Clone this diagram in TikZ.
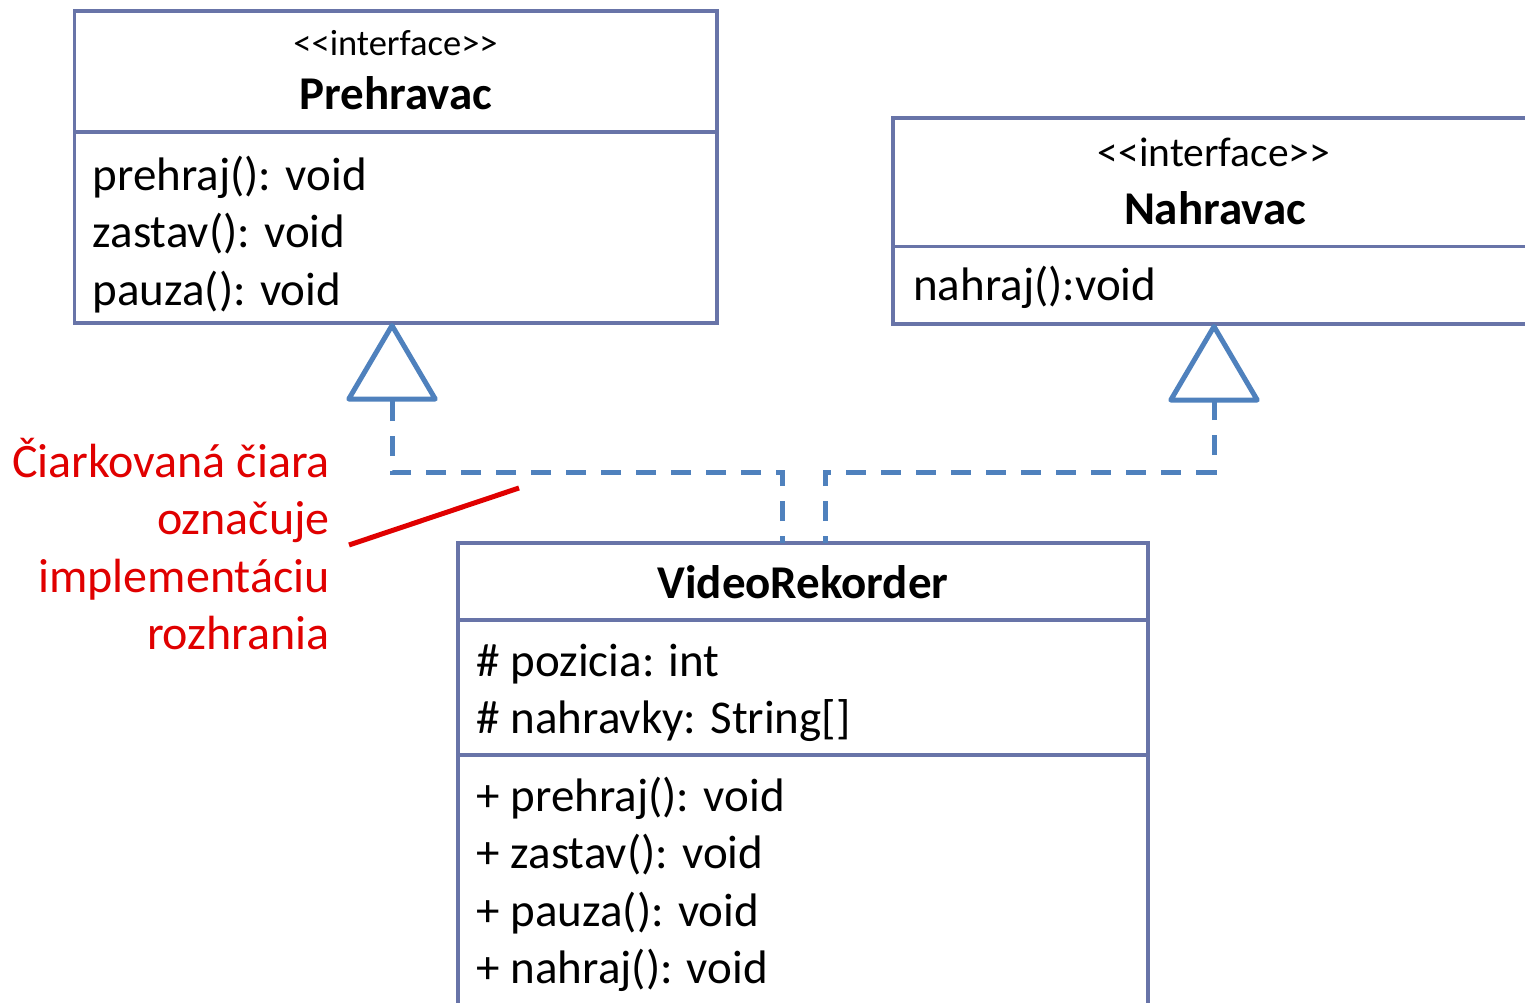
\documentclass[tikz,border=0pt]{standalone}
\usepackage{fontspec}
\setmainfont{Carlito}
\usetikzlibrary{arrows.meta}
\definecolor{boxline}{RGB}{104,116,168}
\definecolor{implblue}{RGB}{79,129,189}
\definecolor{notered}{RGB}{224,0,0}
\newcommand{\stereotype}{<\kern0pt<interface>\kern0pt>}
\tikzset{
  umlbox/.style={draw=boxline, line width=3.2pt, fill=white, rectangle,
    inner sep=0pt, outer sep=0pt},
  divider/.style={draw=boxline, line width=3.2pt},
  stereo/.style={inner sep=0pt, anchor=base, font=\fontsize{36.5}{44}\selectfont},
  classname/.style={inner sep=0pt, anchor=base, font=\fontsize{47}{57}\selectfont\bfseries},
  member/.style={inner sep=0pt, anchor=base west, font=\fontsize{47}{57}\selectfont},
  notetext/.style={inner sep=0pt, anchor=base east, text=notered,
    font=\fontsize{48}{58}\selectfont},
  realize/.style={draw=implblue, line width=5pt, dash pattern=on 20pt off 15pt,
    dash phase=13pt, line join=miter,
    -{Triangle[open, round, length=81pt, width=94pt]}},
  pointer/.style={draw=notered, line width=5pt},
}
\begin{document}
\begin{tikzpicture}[x=1pt, y=-1pt]
\useasboundingbox (0,0) rectangle (1525,1003);
\clip (0,0) rectangle (1525,1003);

% class boxes
\node[umlbox, minimum width=642.5pt, minimum height=312pt] (pre) at (395.75,167) {};
\node[umlbox, minimum width=667pt, minimum height=206pt] (nah) at (1226.5,221) {};
\node[umlbox, minimum width=690pt, minimum height=497pt] (vr) at (803,791.5) {};

% compartment dividers
\draw[divider] (pre.west |- 0,132) -- (pre.east |- 0,132);
\draw[divider] (nah.west |- 0,246.5) -- (nah.east |- 0,246.5);
\draw[divider] (vr.west |- 0,620) -- (vr.east |- 0,620);
\draw[divider] (vr.west |- 0,755) -- (vr.east |- 0,755);

% Prehravac
\node[stereo] (preS) at (395.5,56) {\stereotype};
\node[classname] (preN) at (396,110) {Prehravac};
\node[member] (preM1) at (92.5,190) {prehraj(): void};
\node[member] (preM2) at (92.5,247.5) {zastav(): void};
\node[member] (preM3) at (92.5,305) {pauza(): void};

% Nahravac
\node[stereo, font=\fontsize{41.5}{50}\selectfont] (nahS) at (1214,167) {\stereotype};
\node[classname] (nahN) at (1215,224) {Nahravac};
\node[member] (nahM1) at (913,300) {nahraj():void};

% VideoRekorder
\node[classname] (vrN) at (803,598) {VideoRekorder};
\node[member] (vrA1) at (476.5,676) {\# pozicia: int};
\node[member] (vrA2) at (476.5,733) {\# nahravky: String[]};
\node[member] (vrM1) at (476.5,811) {+ prehraj(): void};
\node[member] (vrM2) at (476.5,868) {+ zastav(): void};
\node[member] (vrM3) at (476.5,926) {+ pauza(): void};
\node[member] (vrM4) at (476.5,983) {+ nahraj(): void};

% interface realizations
\draw[realize] ([xshift=-21pt]vr.north) -- ++(0,-71) -| ([xshift=-3.75pt]pre.south);
\draw[realize] ([xshift=22pt]vr.north) -- ++(0,-71) -| ([xshift=321pt]nah.south west);

% annotation
\node[notetext] (note1) at (330,477) {Čiarkovaná čiara};
\node[notetext] (note2) at (330,534.5) {označuje};
\node[notetext] (note3) at (330,592) {implementáciu};
\node[notetext] (note4) at (330,649.5) {rozhrania};
\coordinate (ptrA) at (349,545);
\coordinate (ptrB) at (519,488);
\draw[pointer] (ptrA) -- (ptrB);
\end{tikzpicture}
\end{document}
